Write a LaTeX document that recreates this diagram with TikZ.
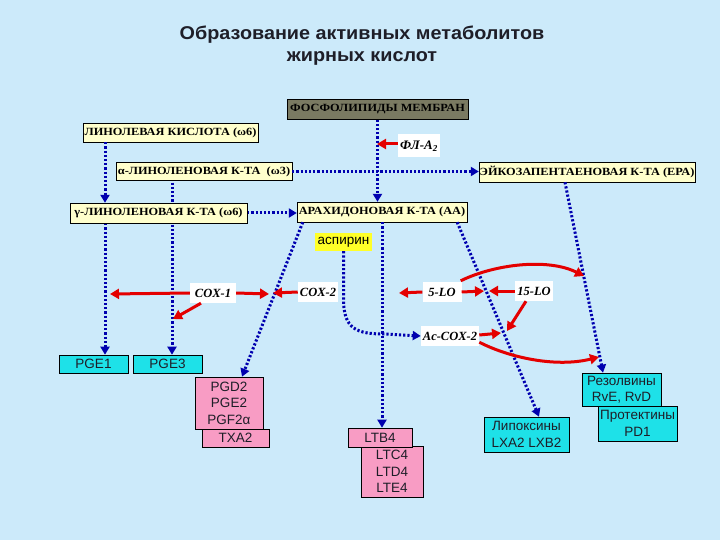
\documentclass[tikz,border=0pt]{standalone}
\usepackage{fontspec}
\setmainfont{Liberation Serif}
\newfontfamily\arialf{Liberation Sans}
\newfontfamily\titlef[FakeStretch=1.07]{Liberation Sans}
\newfontfamily\boxf[FakeStretch=1.12]{Liberation Serif}
\usetikzlibrary{arrows.meta,calc}
\definecolor{bgc}{RGB}{204,234,250}
\definecolor{boxy}{RGB}{255,255,204}
\definecolor{phosc}{RGB}{122,122,98}
\definecolor{cyanb}{RGB}{30,225,232}
\definecolor{pinkb}{RGB}{248,156,196}
\definecolor{dblue}{RGB}{0,0,175}
\definecolor{redc}{RGB}{228,0,0}
\definecolor{aspc}{RGB}{255,255,40}
\definecolor{txtc}{RGB}{30,30,40}
\tikzset{
  ybox/.style={draw=black, fill=boxy, font=\boxf\bfseries\fontsize{11}{12}\selectfont, inner sep=0.5pt, minimum height=19pt},
  enz/.style={fill=white, font=\bfseries\itshape\fontsize{12.5}{13}\selectfont, inner sep=2pt, minimum height=20pt},
  bbox/.style={draw=black, line width=0.6pt, font=\arialf\fontsize{13.5}{16.5}\selectfont, text=txtc, align=center, inner sep=0pt},
  cbox/.style={bbox, fill=cyanb},
  pbox/.style={bbox, fill=pinkb},
  dots/.style={dblue, line width=3pt, dash pattern=on 2.2pt off 2pt, -{Triangle[width=9pt,length=8pt]}},
  rarr/.style={redc, line width=3pt, -{Triangle[width=10pt,length=9pt]}},
}
\begin{document}
\begin{tikzpicture}[x=1pt,y=-1pt]
\fill[bgc] (0,0) rectangle (720,540);
\useasboundingbox (0,0) rectangle (720,540);

\node[font=\titlef\bfseries\fontsize{18.5}{22}\selectfont, align=center, text=txtc] (title) at (362,45.5) {Образование активных метаболитов\\жирных кислот};

% coordinates for line positions
\coordinate (xa) at (105,0);
\coordinate (xb) at (172,0);
\coordinate (xc) at (242,0);
\coordinate (xd) at (539,0);
\coordinate (xe) at (603,0);

% nodes (boxes)
\node[ybox, fill=phosc, minimum width=181, minimum height=20] (phos) at (377.5,109.5) {ФОСФОЛИПИДЫ МЕМБРАН};
\node[ybox, minimum width=175] (lin) at (170.5,132.5) {ЛИНОЛЕВАЯ КИСЛОТА (ω6)};
\node[ybox, minimum width=176, minimum height=18] (alpha) at (204,171.5) {α-ЛИНОЛЕНОВАЯ К-ТА\ \ (ω3)};
\node[ybox, minimum width=216, minimum height=20] (epa) at (587,172) {ЭЙКОЗАПЕНТАЕНОВАЯ К-ТА (ЕРА)};
\node[ybox, minimum width=177, minimum height=20] (gamma) at (158.5,213) {γ-ЛИНОЛЕНОВАЯ К-ТА (ω6)};
\node[ybox, minimum width=170, minimum height=20] (aa) at (382,212) {АРАХИДОНОВАЯ К-ТА (АА)};

\node[cbox, minimum width=69, minimum height=18] (pge1) at (93.5,364) {PGE1};
\node[cbox, minimum width=69, minimum height=18] (pge3) at (167.5,364) {PGE3};
\node[pbox, minimum width=67, minimum height=18] (txa) at (235.5,438) {TXA2};
\node[pbox, minimum width=68, minimum height=52] (pg) at (229,403) {PGD2\\PGE2\\PGF2α};
\node[pbox, minimum width=62, minimum height=51] (ltc) at (392,471.5) {LTC4\\LTD4\\LTE4};
\node[pbox, minimum width=64, minimum height=19] (ltb) at (380,437.5) {LTB4};
\node[cbox, minimum width=85, minimum height=35] (lipox) at (526.5,434.5) {Липоксины\\LXA2 LXB2};
\node[cbox, minimum width=79, minimum height=35] (prot) at (637.5,423.5) {Протектины\\PD1};
\node[cbox, minimum width=79, minimum height=33] (rez) at (621.5,389.5) {Резолвины\\RvE, RvD};

% dotted connectors
\draw[dots] (phos.south) -- (aa.north -| phos.south);
\draw[dots] (lin.south -| xa) -- (gamma.north -| xa);
\draw[dots] (gamma.south -| xa) -- (pge1.north -| xa);
\draw[dots, shorten <=2pt] (alpha.south -| xb) -- (pge3.north -| xb);
\draw[dots] (alpha.east) -- (epa.west |- alpha.east);
\draw[dots] (gamma.east) -- (aa.west |- gamma.east);
\draw[dots] ($(aa.south west)+(6,0)$) -- (pg.north -| xc);
\draw[dots] (aa.south) -- (ltb.north -| aa.south);
\draw[dots] ($(aa.south east)+(-10,0)$) -- (lipox.north -| xd);
\draw[dots] ($(epa.south)+(-22,0)$) -- (rez.north -| xe);

% redraw box crossed by a line
\node[ybox, minimum width=177, minimum height=20] at (gamma) {γ-ЛИНОЛЕНОВАЯ К-ТА (ω6)};

% aspirin and enzymes
\node[fill=aspc, font=\arialf\fontsize{13.5}{15}\selectfont, inner sep=1pt, minimum width=57, minimum height=18] (asp) at (343.5,242) {аспирин};
\node[enz, minimum width=46] (cox1) at (213,293) {COX-1};
\node[enz, minimum width=40] (cox2) at (318,292) {COX-2};
\node[enz, minimum width=39] (slo) at (442,292) {5-LO};
\node[enz, minimum width=38] (flo) at (534,291) {15-LO};
\node[enz, minimum width=55] (accox) at (450,336) {Ac-COX-2};
\node[enz, minimum width=42, minimum height=23, font=\bfseries\itshape\fontsize{13}{14}\selectfont] (fla) at (419,146) {ФЛ-А\textsubscript{2}};

\draw[dots] (asp.south) -- ++(0,48) .. controls +(0,30) and +(-28,0) .. ($(accox.west)+(-36,-2)$) -- (accox.west);

% red arrows
\coordinate (r1) at (110,294);
\coordinate (r2) at (269,294);
\coordinate (r3) at (273,293);
\coordinate (r4) at (173,319);
\coordinate (r5) at (399,293);
\coordinate (r6) at (484,291);
\coordinate (r7) at (489,291);
\coordinate (r8) at (507,331);
\coordinate (r9) at (584,276);
\coordinate (r10) at (501,333);
\coordinate (r11) at (599,357);
\coordinate (r12) at (377,144);

\draw[rarr] (fla.west |- r12) -- (r12);
\draw[rarr] (cox1.west) -- (r1);
\draw[rarr] (cox1.east) -- (r2);
\draw[rarr] (cox2.west) -- (r3);
\draw[rarr] ($(cox1.south)+(-12,0)$) -- (r4);
\draw[rarr] (slo.west) -- (r5);
\draw[rarr] (slo.east) -- (r6);
\draw[rarr] (flo.west) -- (r7);
\draw[rarr] ($(flo.south)+(-8,0)$) -- (r8);
\draw[rarr] ($(slo.north east)+(-1,-1)$) .. controls (495,264) and (548,258) .. (r9);
\draw[rarr] ($(accox.east)+(0,-1)$) -- (r10);
\draw[rarr] ($(accox.south east)+(0,-4)$) .. controls (508,357) and (555,368) .. (r11);
\end{tikzpicture}
\end{document}
